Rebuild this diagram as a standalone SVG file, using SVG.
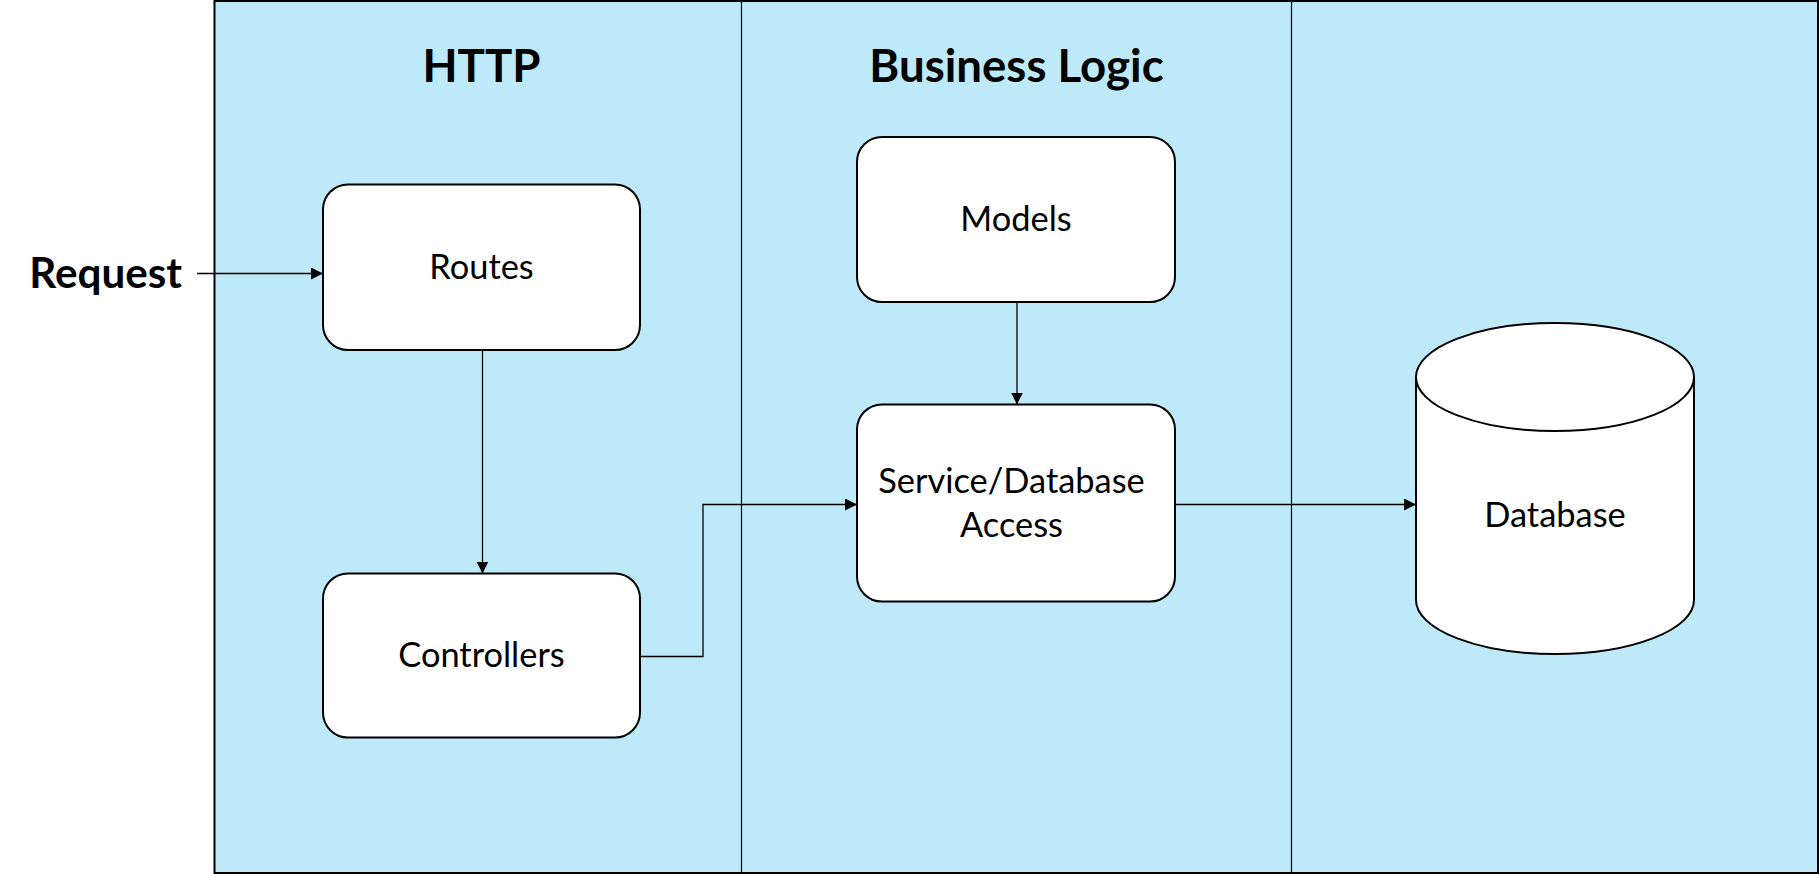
<svg xmlns="http://www.w3.org/2000/svg" width="1819" height="874" viewBox="0 0 1819 874">
<style>
.bg{fill:#BEE9F9;stroke:#000;stroke-width:2}
.div{stroke:#000;stroke-width:1.2;fill:none}
.box{fill:#fff;stroke:#000;stroke-width:2}
.lbl{font-family:Lato,"Liberation Sans",sans-serif;font-size:34.4px;fill:#000;text-anchor:middle}
.hdr{font-family:Lato,"Liberation Sans",sans-serif;font-size:45.6px;font-weight:bold;fill:#000;text-anchor:middle}
.conn{stroke:#000;stroke-width:1.3;fill:none;marker-end:url(#arr)}
</style>
<defs>
<marker id="arr" markerUnits="userSpaceOnUse" markerWidth="12" markerHeight="12" refX="12" refY="6" orient="auto">
<path d="M0,0 L12,6 L0,12 Z" fill="#000"/>
</marker>
</defs>
<g id="lanes">
<rect class="bg" x="214.5" y="1" width="1603.5" height="872"/>
<line class="div" x1="741.5" y1="1" x2="741.5" y2="873"/>
<line class="div" x1="1291.5" y1="1" x2="1291.5" y2="873"/>
<text class="hdr" x="481.5" y="81.7">HTTP</text>
<text class="hdr" x="1016.5" y="81.7">Business Logic</text>
</g>
<g id="request">
<text class="hdr" x="105.7" y="288.3" style="font-size:42.2px">Request</text>
</g>
<g id="connectors">
<path class="conn" d="M197,273.5 H323"/>
<path class="conn" d="M482.5,350 V573.5"/>
<path class="conn" d="M1017,302 V404.5"/>
<path class="conn" d="M640,656.5 H703 V504.5 H857"/>
<path class="conn" d="M1175,504.5 H1416"/>
</g>
<g id="routes">
<rect class="box" x="323" y="184.5" width="317" height="165.5" rx="25" ry="25"/>
<text class="lbl" x="481.5" y="279">Routes</text>
</g>
<g id="controllers">
<rect class="box" x="323" y="573.5" width="317" height="164" rx="25" ry="25"/>
<text class="lbl" x="481.5" y="666.7">Controllers</text>
</g>
<g id="models">
<rect class="box" x="857" y="137" width="318" height="165" rx="25" ry="25"/>
<text class="lbl" x="1016" y="231">Models</text>
</g>
<g id="service">
<rect class="box" x="857" y="404.5" width="318" height="197" rx="25" ry="25"/>
<text class="lbl" x="1011.5" y="493.3">Service/Database</text>
<text class="lbl" x="1011.5" y="537.3">Access</text>
</g>
<g id="database">
<path class="box" d="M1416,377 A139,54 0 0 1 1694,377 V600 A139,54 0 0 1 1416,600 Z"/>
<path class="box" d="M1416,377 A139,54 0 0 0 1694,377" fill="none"/>
<text class="lbl" x="1555" y="527">Database</text>
</g>
</svg>
